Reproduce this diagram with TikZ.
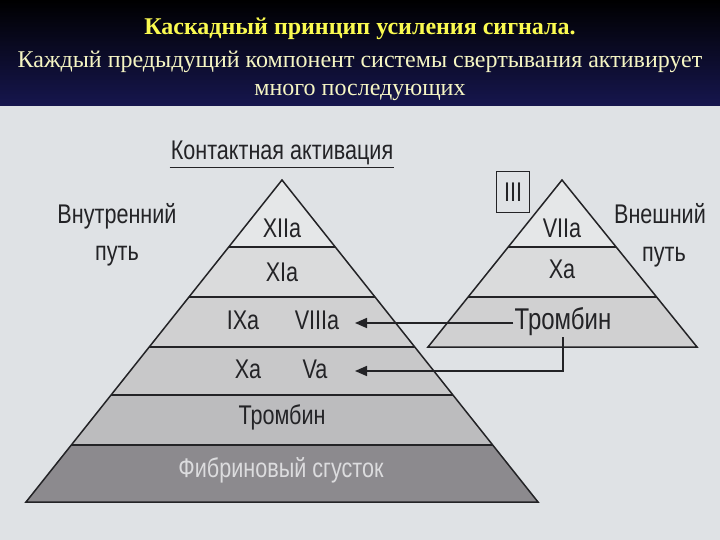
\documentclass[tikz,border=0pt]{standalone}
\usepackage{fontspec}
\setmainfont{Liberation Serif}
\newfontfamily\labfont[FakeStretch=0.8]{Liberation Sans}
\usetikzlibrary{arrows.meta}
\definecolor{bgc}{RGB}{223,226,229}
\definecolor{navyb}{RGB}{22,22,78}
\definecolor{ttl}{RGB}{250,250,80}
\definecolor{sub}{RGB}{245,245,195}
\definecolor{cA}{RGB}{229,231,232}
\definecolor{cB}{RGB}{218,219,220}
\definecolor{cC}{RGB}{208,208,209}
\definecolor{cD}{RGB}{200,200,201}
\definecolor{cE}{RGB}{188,188,190}
\definecolor{cF}{RGB}{140,138,142}
\definecolor{ink}{RGB}{35,35,38}
\definecolor{fibt}{RGB}{220,220,222}
\tikzset{
  lab/.style={font=\labfont\fontsize{27}{29}\selectfont, text=ink, inner sep=1pt},
  sep/.style={draw=ink, line width=2pt},
  edge/.style={draw=ink, line width=1.5pt, line join=miter},
  conn/.style={draw=ink, line width=1.6pt, -{Triangle[length=12pt,width=10pt]}},
  ttlstyle/.style={anchor=base, inner sep=0pt, font=\fontsize{24}{27}\selectfont},
}
\begin{document}
\begin{tikzpicture}[x=1pt,y=-1pt]
\useasboundingbox (0,0) rectangle (720,540);
\fill[bgc] (0,0) rectangle (720,540);
\shade[top color=black, bottom color=navyb] (0,0) rectangle (720,106);
% title
\node[ttlstyle, text=ttl, font=\bfseries\fontsize{24}{27}\selectfont] (t1) at (360,35) {Каскадный принцип усиления сигнала.};
\node[ttlstyle, text=sub] (t2) at (360,68) {Каждый предыдущий компонент системы свертывания активирует};
\node[ttlstyle, text=sub] (t3) at (360,96) {много последующих};
% left pyramid layers
\fill[cA] (282,180) -- (335,247) -- (229,247) -- cycle;
\fill[cB] (229,247) -- (335,247) -- (375,297) -- (189,297) -- cycle;
\fill[cC] (189,297) -- (375,297) -- (415,347) -- (149,347) -- cycle;
\fill[cD] (149,347) -- (415,347) -- (453,395) -- (111,395) -- cycle;
\fill[cE] (111,395) -- (453,395) -- (493,445) -- (71,445) -- cycle;
\fill[cF] (71,445) -- (493,445) -- (538,502) -- (26,502) -- cycle;
\draw[sep] (229,247) -- (335,247);
\draw[sep] (189,297) -- (375,297);
\draw[sep] (149,347) -- (415,347);
\draw[sep] (111,395) -- (453,395);
\draw[sep] (71,445) -- (493,445);
\draw[edge] (26,502) -- (282,180) -- (538,502) -- cycle;
% right pyramid layers
\fill[cA] (562,180) -- (616,247) -- (508,247) -- cycle;
\fill[cB] (508,247) -- (616,247) -- (656,297) -- (468,297) -- cycle;
\fill[cC] (468,297) -- (656,297) -- (697,347) -- (428,347) -- cycle;
\draw[sep] (508,247) -- (616,247);
\draw[sep] (468,297) -- (656,297);
\draw[edge] (428,347) -- (562,180) -- (697,347) -- cycle;
% labels left
\node[lab] (kont) at (282,153) {Контактная активация};
\draw[ink, line width=1.2pt] ([yshift=-1pt]kont.south west) -- ([yshift=-1pt]kont.south east);
\node[lab] (vnut1) at (117,216) {Внутренний};
\node[lab] (vnut2) at (117,256) {путь};
\node[lab] (xiia) at (282,228) {XIIa};
\node[lab] (xia) at (282,272) {XIa};
\node[lab] (ixa) at (243,320) {IXa};
\node[lab] (viiia) at (317,320) {VIIIa};
\node[lab] (xa) at (248,369) {Xa};
\node[lab] (va) at (315,369) {Va};
\node[lab] (trL) at (282,417) {Тромбин};
\node[lab, text=fibt] (fib) at (281,470) {Фибриновый сгусток};
% labels right
\node[lab, draw=ink, line width=1.2pt, minimum width=33pt, minimum height=41pt] (iii) at (513,192) {III};
\node[lab] (vii) at (562,228) {VIIa};
\node[lab] (xaR) at (562,269) {Xa};
\node[lab, font=\labfont\fontsize{30}{32}\selectfont] (trR) at (563,322) {Тромбин};
\node[lab] (vn1) at (660,214) {Внешний};
\node[lab] (vn2) at (664,257) {путь};
% arrows
\coordinate (tip1) at (355,323);
\coordinate (tip2) at (355,371);
\draw[conn] (trR.west |- tip1) -- (tip1);
\draw[conn] (trR.south) |- (tip2);
\end{tikzpicture}
\end{document}
